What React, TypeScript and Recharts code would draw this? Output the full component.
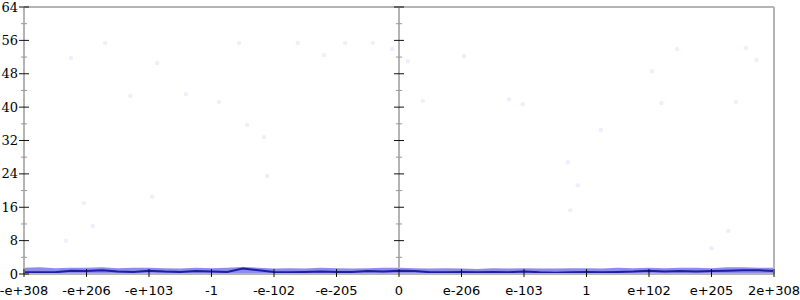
import { ComposedChart, Line, Area, Scatter, XAxis, YAxis, ReferenceLine } from 'recharts';

// x positions are bucket indices: 0 = -e+308 ... 6 = 0 ... 12 = 2e+308
const xLabels = ['-e+308', '-e+206', '-e+103', '-1', '-e-102', '-e-205', '0', 'e-206', 'e-103', '1', 'e+102', 'e+205', '2e+308'];
const xTicks = [0, 1, 2, 3, 4, 5, 6, 7, 8, 9, 10, 11, 12];
const yTicks = [0, 4, 8, 12, 16, 20, 24, 28, 32, 36, 40, 44, 48, 52, 56, 60, 64];

const positions = [
  0, 0.25, 0.5, 0.75, 1, 1.25, 1.5, 1.75, 2, 2.25, 2.5, 2.75, 3, 3.25, 3.5, 3.75,
  4, 4.25, 4.5, 4.75, 5, 5.25, 5.5, 5.75, 6, 6.25, 6.5, 6.75, 7, 7.25, 7.5, 7.75,
  8, 8.25, 8.5, 8.75, 9, 9.25, 9.5, 9.75, 10, 10.25, 10.5, 10.75, 11, 11.25, 11.5, 11.75, 12,
];
const meanLine = [
  0.4, 0.4, 0.4, 0.8, 0.7, 0.9, 0.6, 0.5, 0.8, 0.6, 0.5, 0.7, 0.6, 0.5, 1.3, 0.9,
  0.5, 0.4, 0.5, 0.6, 0.5, 0.5, 0.7, 0.6, 0.8, 0.7, 0.4, 0.4, 0.5, 0.4, 0.5, 0.4,
  0.6, 0.4, 0.3, 0.4, 0.5, 0.4, 0.5, 0.6, 0.8, 0.6, 0.7, 0.6, 0.7, 0.8, 0.9, 0.9, 0.7,
];
const bandTop = [
  1.5, 1.6, 1.4, 1.5, 1.5, 1.6, 1.4, 1.5, 1.5, 1.4, 1.3, 1.5, 1.4, 1.5, 1.7, 1.5,
  1.3, 1.4, 1.3, 1.5, 1.4, 1.3, 1.4, 1.5, 1.5, 1.4, 1.3, 1.4, 1.3, 1.2, 1.4, 1.3,
  1.4, 1.3, 1.3, 1.4, 1.4, 1.3, 1.5, 1.4, 1.5, 1.4, 1.5, 1.5, 1.4, 1.6, 1.6, 1.5, 1.5,
];

// sparse outliers, very faint
const outlierX = [
  0.75, 1.3, 2.13, 1.7, 2.59, 3.44, 3.12, 3.57, 3.84, 0.96, 1.1, 0.67, 4.38, 4.8, 5.14,
  5.58, 5.89, 6.14, 7.04, 6.38, 7.76, 7.98, 8.86, 8.74, 8.7, 10.05, 10.2, 10.45, 11.39,
  11.55, 11.72, 11.0, 3.89, 2.05, 9.23, 11.27,
];
const outlierY = [
  51.8, 55.4, 50.6, 42.7, 43.1, 55.4, 41.2, 35.7, 32.8, 17, 11.5, 8, 55.4, 52.5, 55.4,
  55.4, 53.9, 51, 52.2, 41.5, 41.9, 40.7, 21.3, 15.3, 26.8, 48.6, 41, 53.9, 41.2,
  54.2, 51.3, 6.2, 23.5, 18.5, 34.5, 10.3,
];

const data = positions.map((p, i) => ({ pos: p, mean: meanLine[i], band: bandTop[i] }));
const outliers = outlierX.map((x, i) => ({ pos: x, value: outlierY[i] }));

const GRAY = '#b4b4b4';
const MID = 6;
const HALF_MAJOR = 0.08;
const HALF_MINOR = 0.05;

function LeftTick({ x, y, payload }: any) {
  const major = payload.value % 8 === 0;
  const h = major ? 5 : 3;
  return (
    <g>
      <line x1={x - h} x2={x + h} y1={y} y2={y} stroke={major ? '#111' : '#999'} />
      {major && (
        <text x={x - 6} y={y} dy={4.5} textAnchor="end" fontSize={13} fontFamily="DejaVu Serif" fill="#000">
          {payload.value}
        </text>
      )}
    </g>
  );
}

function RightTick({ x, y, payload }: any) {
  const major = payload.value % 8 === 0;
  const h = major ? 5 : 3;
  return <line x1={x - h} x2={x + h} y1={y} y2={y} stroke={major ? '#111' : '#999'} />;
}

function BottomTick({ x, y, payload }: any) {
  return (
    <g>
      <line x1={x} x2={x} y1={y - 5} y2={y + 3} stroke="#111" />
      <text x={x} y={y + 21} textAnchor="middle" fontSize={13} fontFamily="DejaVu Sans" fill="#000">
        {xLabels[payload.value]}
      </text>
    </g>
  );
}

function FaintDot({ cx, cy }: any) {
  return <circle cx={cx} cy={cy} r={2.2} fill="#eeeefc" />;
}

export default function App() {
  return (
    <div style={{ position: 'absolute', left: 0, top: 0, width: 800, height: 300, background: '#fff' }}>
      <ComposedChart width={800} height={300} data={data} margin={{ top: 7, right: 0, left: 0, bottom: 0 }}>
        <XAxis
          dataKey="pos"
          type="number"
          domain={[0, 12]}
          ticks={xTicks}
          interval={0}
          height={26}
          tickSize={0}
          tickMargin={0}
          tickLine={false}
          axisLine={{ stroke: GRAY, strokeWidth: 2 }}
          tick={<BottomTick />}
        />
        <YAxis
          domain={[0, 64]}
          ticks={yTicks}
          interval={0}
          width={24}
          tickSize={0}
          tickMargin={0}
          tickLine={false}
          axisLine={{ stroke: GRAY, strokeWidth: 2 }}
          tick={<LeftTick />}
        />
        <YAxis
          yAxisId="right"
          orientation="right"
          domain={[0, 64]}
          ticks={yTicks}
          interval={0}
          width={26}
          tickSize={0}
          tickMargin={0}
          tickLine={false}
          axisLine={{ stroke: GRAY, strokeWidth: 2 }}
          tick={<RightTick />}
        />
        <ReferenceLine y={64} stroke={GRAY} strokeWidth={2} />
        <ReferenceLine x={MID} stroke={GRAY} strokeWidth={2} />
        {yTicks.map((t) => {
          const h = t % 8 === 0 ? HALF_MAJOR : HALF_MINOR;
          return (
            <ReferenceLine
              key={t}
              segment={[{ x: MID - h, y: t }, { x: MID + h, y: t }]}
              stroke={t % 8 === 0 ? '#111' : '#999'}
              strokeWidth={1}
            />
          );
        })}
        <Scatter data={outliers} dataKey="value" shape={<FaintDot />} isAnimationActive={false} />
        <Area
          type="linear"
          dataKey="band"
          stroke="none"
          fill="#5c5ce2"
          fillOpacity={0.7}
          isAnimationActive={false}
        />
        <Line
          type="linear"
          dataKey="mean"
          stroke="#1e1ea0"
          strokeWidth={2}
          dot={false}
          isAnimationActive={false}
        />
      </ComposedChart>
    </div>
  );
}
